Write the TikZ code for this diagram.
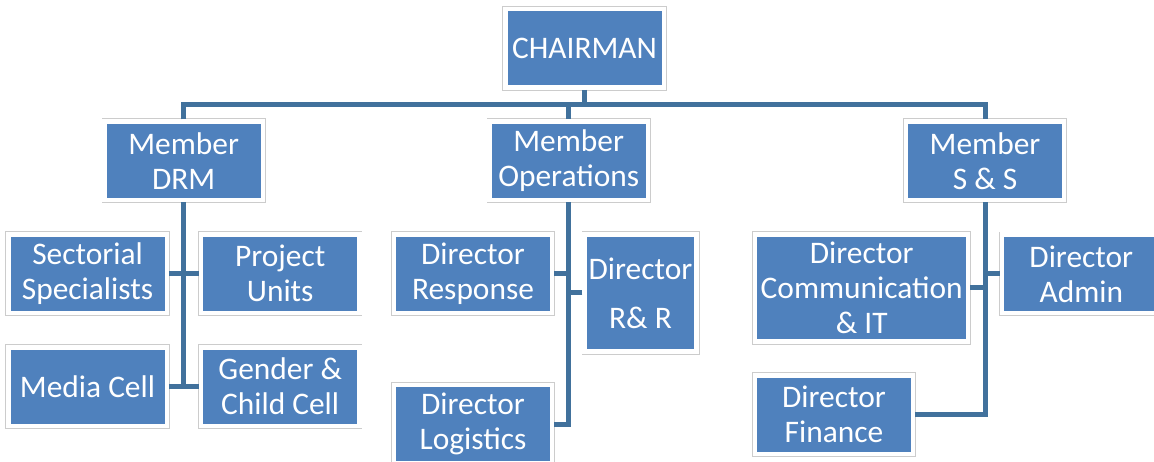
\documentclass[tikz,border=0pt]{standalone}
\usepackage{fontspec}
\setmainfont{Carlito}
\definecolor{cbox}{HTML}{4F81BD}
\definecolor{cline}{HTML}{41719C}
\definecolor{cedge}{HTML}{CCCCCC}
\tikzset{
  obox/.style={fill=cbox, text=white, draw=white, line width=4.4pt,
               preaction={draw=cedge, line width=6pt},
               align=center, inner sep=0pt,
               font=\fontsize{31.4}{35}\selectfont},
  wbox/.style={obox, minimum width=158.4pt, minimum height=78.6pt},
  link/.style={draw=cline, line width=5pt},
}
\begin{document}
\begin{tikzpicture}[x=1pt, y=-1pt]
  \useasboundingbox (0,0) rectangle (1154,462);
  \node[wbox] (chair) at (584.5,48.3) {CHAIRMAN};
  % members
  \node[wbox] (mdrm) at (183.7,160.8) {Member\\DRM};
  \node[wbox] (mops) at (568.7,160.8) {Member\\Operations};
  \node[wbox] (mss)  at (985,160.8)   {Member\\S \& S};
  % DRM units
  \node[wbox] (sect) at (87.5,273.7)  {Sectorial\\Specialists};
  \node[wbox] (proj) at (280.2,273.7) {Project\\Units};
  \node[wbox] (media) at (87.5,386.7) {Media Cell};
  \node[wbox] (gend) at (280.2,386.7) {Gender \&\\Child Cell};
  % operations directors
  \node[wbox] (resp) at (473,273.7) {Director\\Response};
  \node[obox, minimum width=112pt, minimum height=117pt] (rr) at (640.5,293)
       {Director\\[14pt]R\& R};
  \node[wbox] (logi) at (473,424.3) {Director\\Logistics};
  % S&S directors
  \node[obox, minimum width=213pt, minimum height=107pt] (comm) at (861.7,288)
       {Director\\Communication\\\& IT};
  \node[wbox] (admin) at (1081.3,273.9) {Director\\Admin};
  \node[wbox] (fin) at (834,414.7) {Director\\Finance};

  \coordinate (bus) at (0,104.5);
  \draw[link] (chair.south) -- (chair.south |- bus);
  \draw[link] (mdrm.north) -- (mdrm.north |- bus) -- (mss.north |- bus) -- (mss.north);
  \draw[link] (mops.north |- bus) -- (mops.north);

  \draw[link] (mdrm.south) -- (mdrm.south |- media.east);
  \foreach \a/\b in {sect/proj,media/gend}
     \draw[link] (\a.east) -- (\b.west);

  \draw[link] (mops.south) -- (mops.south |- logi.east) -- (logi.east);
  \draw[link] (resp.east) -- (resp.east -| mops.south);
  \draw[link] (rr.west) -- (rr.west -| mops.south);

  \draw[link] (mss.south) -- (mss.south |- fin.east) -- (fin.east);
  \draw[link] (comm.east) -- (comm.east -| mss.south);
  \draw[link] (admin.west) -- (admin.west -| mss.south);
\end{tikzpicture}
\end{document}
